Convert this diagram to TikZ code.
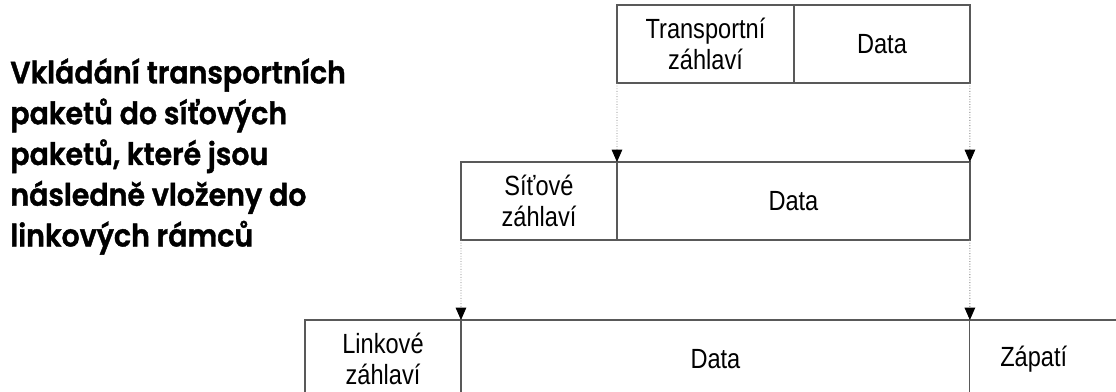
\documentclass[tikz,border=0pt]{standalone}
\usepackage{fontspec}
\setmainfont{Liberation Sans}
\newfontfamily\boxfont{Liberation Sans}[FakeStretch=0.85]
\newfontfamily\captionfont{Poppins SemiBold}[FakeStretch=0.92,FakeBold=1.2]
\usetikzlibrary{arrows.meta}

\begin{document}
\begin{tikzpicture}[x=0.02cm,y=-0.02cm,
		cell/.style={draw=black!65,line width=0.7pt,inner sep=0pt,outer sep=0pt,anchor=north west,align=center,
			minimum height=1.56cm,font=\boxfont\fontsize{15.8}{17.6}\selectfont},
		ins/.style={-{Triangle[width=6pt,length=7pt,color=black]},densely dotted,gray,line width=0.5pt}]
	\useasboundingbox (0,0) rectangle (1116,392);
	\clip (0,0) rectangle (1116,392);
	% popis vlevo
	\node[anchor=north west,align=left,inner sep=0pt,font=\captionfont\fontsize{17.6}{23.2}\selectfont] (popis) at (10,58)
		{Vkládání transportních\\paketů do síťových\\paketů, které jsou\\následně vloženy do\\linkových rámců};
	% transportni paket
	\node[cell,minimum width=3.54cm] (thead) at (617,5) {Transportní\\záhlaví};
	\node[cell,minimum width=3.52cm] (tdata) at (thead.north east) {Data};
	% sitovy paket
	\node[cell,minimum width=3.12cm] (nhead) at (461,162) {Síťové\\záhlaví};
	\node[cell,minimum width=7.06cm] (ndata) at (nhead.north east) {Data};
	% linkovy ramec
	\node[cell,minimum width=3.12cm] (lhead) at (305,320) {Linkové\\záhlaví};
	\node[cell,minimum width=10.18cm] (ldata) at (lhead.north east) {Data};
	\node[cell,minimum width=3.4cm] (lfoot) at (ldata.north east) {Zápatí\hspace*{24pt}};
	% vkladani
	\draw[ins] (thead.south west) -- (ndata.north west);
	\draw[ins] (tdata.south east) -- (ndata.north east);
	\draw[ins] (nhead.south west) -- (ldata.north west);
	\draw[ins] (ndata.south east) -- (ldata.north east);
\end{tikzpicture}
\end{document}
